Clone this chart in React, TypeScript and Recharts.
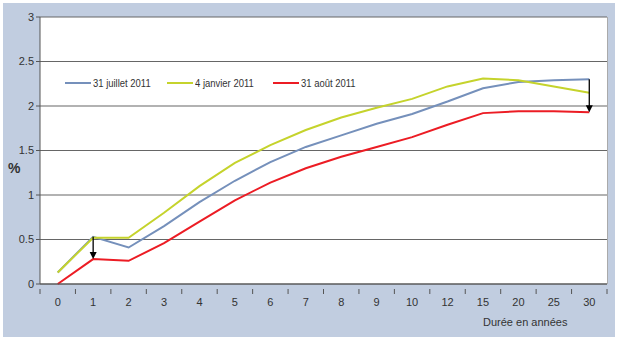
import React from "react";
import {
  LineChart,
  Line,
  XAxis,
  YAxis,
  CartesianGrid,
  ReferenceLine,
} from "recharts";

// maturities (years) and yield curves in %
const maturities = ["0", "1", "2", "3", "4", "5", "6", "7", "8", "9", "10", "12", "15", "20", "25", "30"];
const juillet2011 = [0.13, 0.53, 0.41, 0.65, 0.92, 1.16, 1.37, 1.54, 1.67, 1.8, 1.91, 2.05, 2.2, 2.27, 2.29, 2.3];
const janvier2011 = [0.13, 0.52, 0.52, 0.8, 1.1, 1.36, 1.56, 1.73, 1.87, 1.98, 2.08, 2.22, 2.31, 2.29, 2.22, 2.15];
const aout2011 = [0.0, 0.28, 0.26, 0.46, 0.7, 0.94, 1.14, 1.3, 1.43, 1.54, 1.65, 1.79, 1.92, 1.94, 1.94, 1.93];
const yTicks = [0, 0.5, 1, 1.5, 2, 2.5, 3];

const series = [
  { key: "juillet", name: "31 juillet 2011", color: "#7590bb", values: juillet2011 },
  { key: "janvier", name: "4 janvier 2011", color: "#c5d32c", values: janvier2011 },
  { key: "aout", name: "31 août 2011", color: "#ec1c24", values: aout2011 },
];

const data = maturities.map((m, i) => ({
  m,
  juillet: juillet2011[i],
  janvier: janvier2011[i],
  aout: aout2011[i],
}));

const FONT = "'Liberation Sans', Arial, sans-serif";
const W = 612;
const H = 334;
const MARGIN = { top: 14, right: 8, bottom: 23, left: 0 };
const Y_AXIS_W = 37;
const BAND = (W - MARGIN.right - MARGIN.left - Y_AXIS_W) / maturities.length;

// vertical arrow from blue curve down to red curve
const Arrow = (props: any) => {
  const { x1, y1, x2, y2 } = props;
  return (
    <g>
      <line x1={x1} y1={y1} x2={x2} y2={y2 - 6} stroke="#000" strokeWidth={1.3} />
      <polygon points={`${x2 - 3.5},${y2 - 7} ${x2 + 3.5},${y2 - 7} ${x2},${y2}`} fill="#000" />
    </g>
  );
};

// category label centred in its band, tick marks on the band edges
const BandTick = (props: any) => {
  const { x, y, payload, index } = props;
  const left = x - BAND / 2;
  const last = index === maturities.length - 1;
  return (
    <g>
      <line x1={left} y1={y - 3} x2={left} y2={y + 2} stroke="#555" />
      {last && <line x1={left + BAND} y1={y - 3} x2={left + BAND} y2={y + 2} stroke="#555" />}
      <text
        x={x}
        y={y + 14}
        textAnchor="middle"
        fontSize={11}
        fill="#333"
        fontFamily={FONT}
      >
        {payload.value}
      </text>
    </g>
  );
};

const LEGEND_WIDTHS = [102, 106, 100];

const LegendRow = () => (
  <div style={{ display: "flex", fontFamily: FONT, fontSize: 11, color: "#333", lineHeight: "14px" }}>
    {series.map((s, i) => (
      <div key={s.key} style={{ display: "flex", alignItems: "center", width: LEGEND_WIDTHS[i] }}>
        <span style={{ display: "inline-block", width: 26, height: 2, background: s.color, marginRight: 2 }} />
        <span
          style={{
            display: "inline-block",
            whiteSpace: "nowrap",
            transform: "scaleX(0.86)",
            transformOrigin: "left center",
          }}
        >
          {s.name}
        </span>
      </div>
    ))}
  </div>
);

export default function App() {
  return (
    <div style={{ position: "absolute", left: 0, top: 0, width: 617, height: 337, background: "#fff" }}>
      <div style={{ position: "absolute", left: 3, top: 3, width: W, height: H, background: "#c1cde0" }}>
        <LineChart width={W} height={H} data={data} margin={MARGIN}>
          <CartesianGrid vertical={false} stroke="#666" strokeWidth={1.2} fill="#fff" />
          <XAxis
            dataKey="m"
            scale="band"
            height={30}
            interval={0}
            axisLine={{ stroke: "#555" }}
            tickLine={false}
            tick={<BandTick />}
          />
          <YAxis
            width={Y_AXIS_W}
            domain={[0, 3]}
            ticks={yTicks}
            axisLine={{ stroke: "#555" }}
            tickLine={{ stroke: "#555" }}
            tickSize={4}
            tick={{ fontSize: 11, fill: "#333", fontFamily: FONT }}
          />
          {series.map((s) => (
            <Line
              key={s.key}
              dataKey={s.key}
              name={s.name}
              stroke={s.color}
              strokeWidth={2}
              dot={false}
              activeDot={false}
              isAnimationActive={false}
            />
          ))}
          <ReferenceLine
            segment={[{ x: "1", y: juillet2011[1] }, { x: "1", y: aout2011[1] }]}
            shape={<Arrow />}
          />
          <ReferenceLine
            segment={[{ x: "30", y: juillet2011[15] }, { x: "30", y: aout2011[15] }]}
            shape={<Arrow />}
          />
        </LineChart>
        <div style={{ position: "absolute", left: 62, top: 73 }}>
          <LegendRow />
        </div>
        <div
          style={{
            position: "absolute",
            left: 5,
            top: 157,
            fontFamily: FONT,
            fontSize: 14,
            fontWeight: "bold",
            color: "#333",
          }}
        >
          %
        </div>
        <div
          style={{
            position: "absolute",
            left: 480,
            top: 313,
            fontFamily: FONT,
            fontSize: 11,
            color: "#333",
            whiteSpace: "nowrap",
          }}
        >
          Durée en années
        </div>
        <div
          style={{
            position: "absolute",
            left: W - MARGIN.right,
            top: MARGIN.top,
            width: 1,
            height: H - MARGIN.top - MARGIN.bottom - 30,
            background: "#aaa",
          }}
        />
      </div>
    </div>
  );
}
